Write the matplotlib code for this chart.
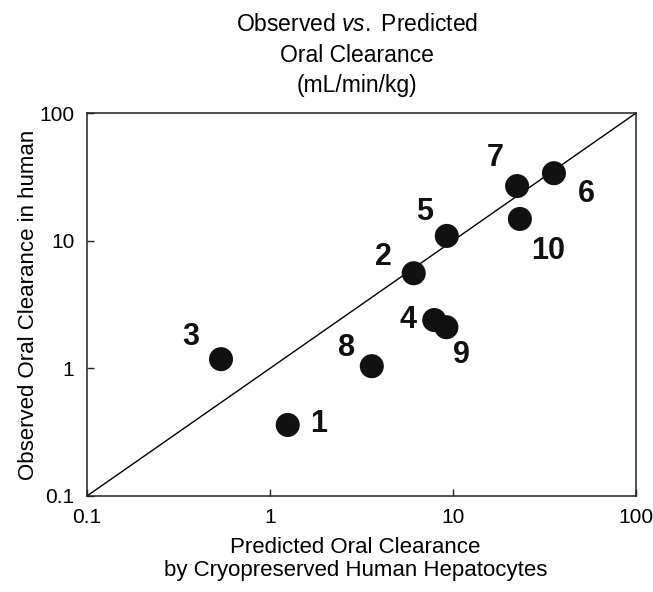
import matplotlib

matplotlib.use("Agg")
import matplotlib.pyplot as plt

# predicted (hepatocytes) vs observed oral clearance, mL/min/kg
compound = ["1", "2", "3", "4", "5", "6", "7", "8", "9", "10"]
predicted = [1.25, 6.1, 0.54, 7.9, 9.25, 35.6, 22.4, 3.6, 9.2, 23.2]
observed = [0.36, 5.56, 1.18, 2.39, 10.9, 33.8, 26.8, 1.04, 2.1, 14.8]

# label offsets in points, one per compound
label_dx = [22, -22, -22, -19, -16, 23, -16, -18, 11, 20]
label_dy = [1, 12, 16, 0, 17, -15, 20, 13, -20, -23]

unity = [0.1, 100]
ticks = [0.1, 1, 10, 100]
tick_labels = ["0.1", "1", "10", "100"]

plt.rcParams["font.family"] = ["Liberation Sans", "DejaVu Sans"]
plt.rcParams["mathtext.fontset"] = "custom"
plt.rcParams["mathtext.rm"] = "Liberation Sans"
plt.rcParams["mathtext.it"] = "Liberation Sans:italic"

fig = plt.figure(figsize=(6.53, 5.92), dpi=100)
ax = fig.add_axes([0.1332, 0.1622, 0.8408, 0.6468])

ax.plot(unity, unity, color="black", lw=1.0, zorder=1)
ax.scatter(predicted, observed, s=300, color="#111111", edgecolor="none", zorder=3)
for name, x, y, dx, dy in zip(compound, predicted, observed, label_dx, label_dy):
    ax.annotate(name, (x, y), xytext=(dx, dy), textcoords="offset points",
                ha="center", va="center", fontsize=22, fontweight="bold",
                color="#111111")

ax.set_xscale("log")
ax.set_yscale("log")
ax.set_xlim(0.1, 100)
ax.set_ylim(0.1, 100)
ax.minorticks_off()
ax.set_xticks(ticks)
ax.set_xticklabels(tick_labels)
ax.set_yticks(ticks)
ax.set_yticklabels(tick_labels)
ax.tick_params(direction="in", length=5, width=1, labelsize=15, pad=9, color="#222222")
for sp in ax.spines.values():
    sp.set_linewidth(1.1)
    sp.set_color("#222222")

ax.set_xlabel("Predicted Oral Clearance\nby Cryopreserved Human Hepatocytes",
              fontsize=16, linespacing=1.1)
ax.xaxis.set_label_coords(0.489, -0.108, transform=ax.transAxes)
ax.xaxis.label.set_va("top")
ax.set_ylabel("Observed Oral Clearance in human", fontsize=16, labelpad=0)

fig.text(0.547, 0.958, "Observed $\\it{vs.}$ Predicted", ha="center", va="center",
         fontsize=16.5)
fig.text(0.547, 0.907, "Oral Clearance", ha="center", va="center", fontsize=16.5)
fig.text(0.547, 0.856, "(mL/min/kg)", ha="center", va="center", fontsize=16.5)

fig.savefig("out.png", dpi=100)
